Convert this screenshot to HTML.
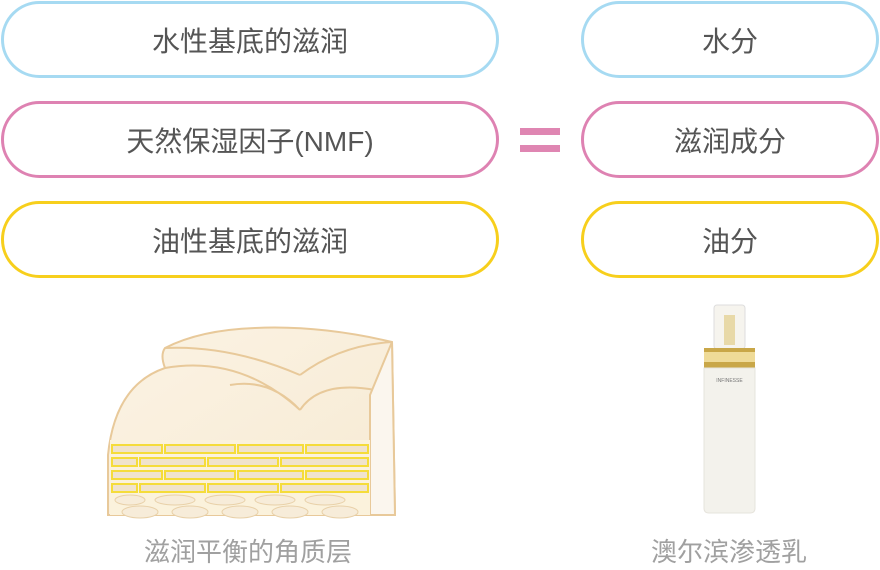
<!DOCTYPE html>
<html><head><meta charset="utf-8"><style>
body{margin:0;width:880px;height:570px;background:#fff;position:relative;overflow:hidden;font-family:"Liberation Sans","Noto Sans CJK SC",sans-serif;}
.p{position:absolute;box-sizing:border-box;border:3px solid;border-radius:40px;height:77px;display:flex;align-items:center;justify-content:center;font-size:28px;color:#555;}
.l{left:1px;width:498px}.r{left:581px;width:298px}
.b{border-color:#a6daf2}.k{border-color:#de82b2}.y{border-color:#f7cf1c}
.eq{position:absolute;left:520px;width:40px;height:7px;background:#df86b2}
.cap{position:absolute;font-size:26px;color:#a0a0a0;line-height:30px}
</style></head><body>
<div class="p l b" style="top:1px">水性基底的滋润</div>
<div class="p l k" style="top:101px">天然保湿因子(NMF)</div>
<div class="p l y" style="top:201px">油性基底的滋润</div>
<div class="p r b" style="top:1px">水分</div>
<div class="p r k" style="top:101px">滋润成分</div>
<div class="p r y" style="top:201px">油分</div>
<div class="eq" style="top:128px"></div>
<div class="eq" style="top:145px;height:7px"></div>

<svg style="position:absolute;left:0;top:0" width="880" height="570">
<defs><linearGradient id="g" x1="0" y1="0" x2="1" y2="1"><stop offset="0" stop-color="#fbf3e4"/><stop offset="1" stop-color="#f7ead3"/></linearGradient></defs>
<g stroke="#e8c99a" stroke-width="2" fill="url(#g)">
<path d="M108 515 L108 455 Q115 385 165 368 Q160 355 165 348 Q200 330 255 328 Q320 325 392 342 L395 515 Z"/>
<path d="M165 368 Q240 355 300 410 M300 410 Q320 380 375 390 M165 348 Q230 345 300 375 M300 375 Q340 345 392 342 M230 385 Q270 378 300 410 M375 390 L392 342" fill="none"/>
<path d="M370 395 L392 342 L395 515 L370 515 Z" fill="#fbf6ee"/>
</g>
<rect x="110" y="440" width="260" height="75" fill="#fbf2dc"/>
<g fill="#f0e3cc" stroke="#f5dc3a" stroke-width="2">
<rect x="112" y="445" width="50" height="8"/><rect x="165" y="445" width="70" height="8"/><rect x="238" y="445" width="65" height="8"/><rect x="306" y="445" width="62" height="8"/>
<rect x="112" y="458" width="25" height="8"/><rect x="140" y="458" width="65" height="8"/><rect x="208" y="458" width="70" height="8"/><rect x="281" y="458" width="87" height="8"/>
<rect x="112" y="471" width="50" height="8"/><rect x="165" y="471" width="70" height="8"/><rect x="238" y="471" width="65" height="8"/><rect x="306" y="471" width="62" height="8"/>
<rect x="112" y="484" width="25" height="8"/><rect x="140" y="484" width="65" height="8"/><rect x="208" y="484" width="70" height="8"/><rect x="281" y="484" width="87" height="8"/>
</g>
<g fill="#f7ecd9" stroke="#e8d0a8" stroke-width="1">
<ellipse cx="130" cy="500" rx="15" ry="5"/><ellipse cx="175" cy="500" rx="20" ry="5"/><ellipse cx="225" cy="500" rx="20" ry="5"/><ellipse cx="275" cy="500" rx="20" ry="5"/><ellipse cx="325" cy="500" rx="20" ry="5"/>
<ellipse cx="140" cy="512" rx="18" ry="6"/><ellipse cx="190" cy="512" rx="18" ry="6"/><ellipse cx="240" cy="512" rx="18" ry="6"/><ellipse cx="290" cy="512" rx="18" ry="6"/><ellipse cx="340" cy="512" rx="18" ry="6"/>
</g>
<rect x="714" y="305" width="31" height="44" rx="3" fill="#f6f4ee" stroke="#ddd" stroke-width="1"/>
<rect x="724" y="315" width="11" height="30" fill="#e8d9a8"/>
<rect x="704" y="348" width="51" height="20" fill="#c9a748"/>
<rect x="704" y="352" width="51" height="10" fill="#efdb98"/>
<path d="M704 368 H755 V508 Q755 513 750 513 H709 Q704 513 704 508 Z" fill="#f3f2ec" stroke="#e6e4dc"/>
<text x="729.5" y="382" font-size="5" text-anchor="middle" fill="#777" font-family="Liberation Sans">INFINESSE</text>
</svg>
<div class="cap" style="left:144px;top:537px">滋润平衡的角质层</div>
<div class="cap" style="left:651px;top:537px">澳尔滨渗透乳</div>
</body></html>
